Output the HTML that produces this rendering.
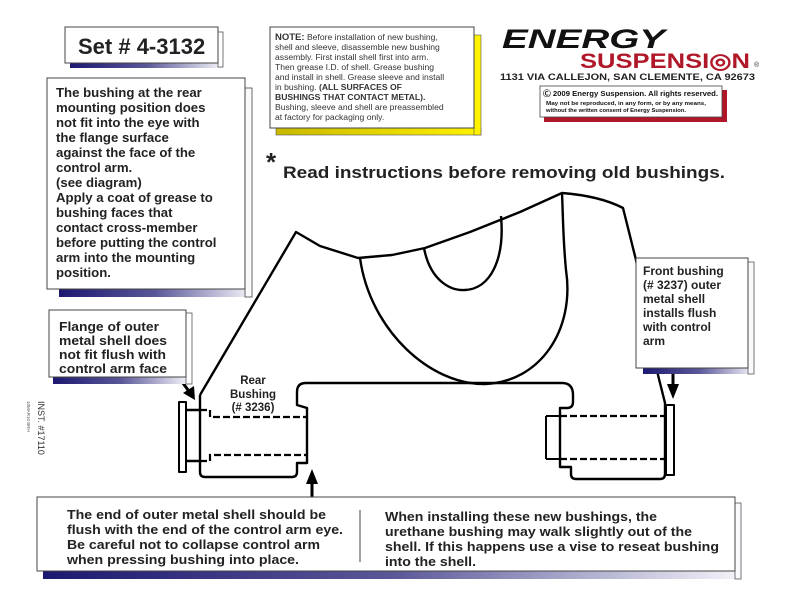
<!DOCTYPE html>
<html><head><meta charset="utf-8"><style>
html,body{margin:0;padding:0;background:#fff}
svg{display:block}
text{font-family:"Liberation Sans",Arial,sans-serif}
</style></head><body>
<svg width="792" height="612" viewBox="0 0 792 612" xmlns="http://www.w3.org/2000/svg">
<defs>
<linearGradient id="bl" x1="0" x2="1" y1="0" y2="0"><stop offset="0" stop-color="#1c1870"/><stop offset="0.5" stop-color="#5a5798"/><stop offset="1" stop-color="#f4f4fa"/></linearGradient>
<linearGradient id="yl" x1="0" x2="1" y1="0" y2="0"><stop offset="0" stop-color="#c8b800"/><stop offset="1" stop-color="#fff200"/></linearGradient>
</defs>

<!-- Set box -->
<rect x="70" y="62" width="152" height="6" fill="url(#bl)"/>
<rect x="218" y="32" width="5" height="35" fill="#fff" stroke="#555" stroke-width="0.8"/>
<rect x="65" y="27" width="153" height="36" fill="#fff" stroke="#444" stroke-width="1"/>
<text x="78" y="54" font-size="22" font-weight="bold" fill="#222">Set # 4-3132</text>

<!-- Left text box -->
<rect x="59" y="288" width="193" height="9" fill="url(#bl)"/>
<rect x="245" y="88" width="7" height="209" fill="#fafafc" stroke="#444" stroke-width="0.8"/>
<rect x="47" y="78" width="198" height="211" fill="#fff" stroke="#444" stroke-width="1"/>
<g font-size="13.2" font-weight="bold" fill="#222">
<text x="56" y="97">The bushing at the rear</text>
<text x="56" y="112">mounting position does</text>
<text x="56" y="127">not fit into the eye with</text>
<text x="56" y="142">the flange surface</text>
<text x="56" y="157">against  the face of the</text>
<text x="56" y="172">control arm.</text>
<text x="56" y="187">(see diagram)</text>
<text x="56" y="202">Apply a coat of grease to</text>
<text x="56" y="217">bushing faces that</text>
<text x="56" y="232">contact cross-member</text>
<text x="56" y="247">before putting the control</text>
<text x="56" y="262">arm into the mounting</text>
<text x="56" y="277">position.</text>
</g>

<!-- Note box -->
<rect x="276" y="128" width="205" height="7" fill="url(#yl)" stroke="#555" stroke-width="0.6"/>
<rect x="474" y="35" width="7" height="100" fill="#fff200" stroke="#555" stroke-width="0.6"/>
<rect x="270" y="27" width="204" height="101" fill="#fff" stroke="#444" stroke-width="1"/>
<g font-size="8.6" fill="#333">
<text x="275" y="40"><tspan font-weight="bold" font-size="9.5">NOTE:</tspan> Before installation of new bushing,</text>
<text x="275" y="50">shell and sleeve, disassemble new bushing</text>
<text x="275" y="60">assembly. First install shell first into arm.</text>
<text x="275" y="70">Then grease I.D. of shell. Grease bushing</text>
<text x="275" y="80">and install in shell. Grease sleeve and install</text>
<text x="275" y="90">in bushing. <tspan font-weight="bold">(ALL SURFACES OF</tspan></text>
<text x="275" y="100" font-weight="bold">BUSHINGS THAT CONTACT METAL).</text>
<text x="275" y="110">Bushing, sleeve and shell are preassembled</text>
<text x="275" y="120">at factory for packaging only.</text>
</g>

<!-- Logo -->
<text x="502" y="48" font-size="27" font-weight="bold" font-style="italic" fill="#111" textLength="163" lengthAdjust="spacingAndGlyphs">ENERGY</text>
<text x="580" y="68" font-size="21" font-weight="bold" fill="#b0182a" textLength="170" lengthAdjust="spacingAndGlyphs">SUSPENSI◎N</text>
<text x="754" y="67" font-size="7" fill="#333">®</text>
<text x="500" y="80" font-size="9.5" font-weight="bold" fill="#222" textLength="255" lengthAdjust="spacingAndGlyphs">1131 VIA CALLEJON, SAN CLEMENTE, CA  92673</text>
<rect x="544" y="90" width="183" height="32" fill="#b0182a"/>
<rect x="540" y="86" width="182" height="31" fill="#fff" stroke="#444" stroke-width="0.8"/>
<text x="543" y="96" font-size="7.2" font-weight="bold" fill="#111" textLength="175" lengthAdjust="spacingAndGlyphs">Ⓒ 2009 Energy Suspension. All rights reserved.</text>
<text x="546" y="105" font-size="5.8" font-weight="bold" fill="#111" textLength="160" lengthAdjust="spacingAndGlyphs">May not be reproduced, in any form, or by any means,</text>
<text x="546" y="112" font-size="5.8" font-weight="bold" fill="#111" textLength="140" lengthAdjust="spacingAndGlyphs">without the written consent of Energy Suspension.</text>

<!-- Read instructions -->
<text x="266" y="171" font-size="26" font-weight="bold" fill="#222">*</text>
<text x="283" y="178" font-size="16.5" font-weight="bold" fill="#222" textLength="442" lengthAdjust="spacingAndGlyphs">Read instructions before removing old bushings.</text>

<!-- Arm drawing -->
<g fill="none" stroke="#000" stroke-width="2.4" stroke-linejoin="round">
<path d="M200,395 L296,232 L320,246 L358,258 L392,255 L425,248 L470,232 L520,212 L562,193 Q600,196 623,208 L636,260 L658,375"/>
<path d="M360,258 C370,330 430,385 485,384 C540,382 575,330 566,270 C563,240 563,215 562,193"/>
<path d="M424,248 C430,280 450,291 465,290 C490,289 505,260 501,216"/>
<path d="M200,395 L200,472 Q200,477 205,477 L292,477 Q297,477 297,472 L297,463 L307,463 L307,408 L297,405 L297,392 Q297,383 306,383 L562,383 Q573,383 573,395 L573,402 Q573,408 567,408 L560,408 L560,467 L571,467 L571,474 Q571,479 576,479 L660,479 Q665,479 665,474 L665,403 L658,375"/>
<rect x="179" y="402" width="7" height="70" stroke-width="2"/>
<path d="M186,410 L200,410 M186,461 L200,461"/>
<path d="M546,416 L560,416 M546,459 L560,459 M546,416 L546,459" stroke-width="2"/>
<rect x="666" y="405" width="8" height="70" stroke-width="2"/>
</g>
<g fill="none" stroke="#000" stroke-width="2.2" stroke-dasharray="7,3">
<path d="M200,410 L210,410 L210,417 L307,417"/>
<path d="M200,461 L210,461 L210,455 L307,455"/>
<path d="M560,416 L665,416"/>
<path d="M560,459 L665,459"/>
</g>
<!-- arrows -->
<g stroke="#000" stroke-width="3" fill="none">
<line x1="175" y1="372" x2="188" y2="390"/>
<line x1="312" y1="500" x2="312" y2="482"/>
<line x1="673" y1="363" x2="673" y2="386"/>
</g>
<path d="M183,393 L195,400 L194,386z" fill="#000"/>
<path d="M306,484 L312,469 L318,484z" fill="#000"/>
<path d="M667,384 L673,399 L679,384z" fill="#000"/>

<!-- Rear bushing label -->
<g font-size="11.5" font-weight="bold" fill="#222" text-anchor="middle">
<text x="253" y="384">Rear</text>
<text x="253" y="398">Bushing</text>
<text x="253" y="411">(# 3236)</text>
</g>

<!-- Flange box -->
<rect x="53" y="377" width="135" height="7" fill="url(#bl)"/>
<rect x="186" y="313" width="6" height="71" fill="#fff" stroke="#555" stroke-width="0.8"/>
<rect x="49" y="310" width="137" height="67" fill="#fff" stroke="#444" stroke-width="1"/>
<g font-size="13" font-weight="bold" fill="#222">
<text x="59" y="331" textLength="100" lengthAdjust="spacingAndGlyphs">Flange of outer</text>
<text x="59" y="345" textLength="108" lengthAdjust="spacingAndGlyphs">metal shell does</text>
<text x="59" y="359" textLength="107" lengthAdjust="spacingAndGlyphs">not fit flush with</text>
<text x="59" y="373" textLength="108" lengthAdjust="spacingAndGlyphs">control arm face</text>
</g>

<!-- Front box -->
<rect x="643" y="368" width="111" height="6" fill="url(#bl)"/>
<rect x="748" y="262" width="6" height="112" fill="#fafafc" stroke="#555" stroke-width="0.8"/>
<rect x="636" y="258" width="112" height="110" fill="#fff" stroke="#444" stroke-width="1"/>
<g font-size="12" font-weight="bold" fill="#222">
<text x="643" y="275">Front bushing</text>
<text x="643" y="289">(# 3237) outer</text>
<text x="643" y="303">metal shell</text>
<text x="643" y="317">installs flush</text>
<text x="643" y="331">with control</text>
<text x="643" y="345">arm</text>
</g>

<!-- Bottom box -->
<rect x="43" y="570" width="698" height="9" fill="url(#bl)"/>
<rect x="735" y="503" width="6" height="76" fill="#fafafc" stroke="#555" stroke-width="0.8"/>
<rect x="37" y="497" width="698" height="74" fill="#fff" stroke="#444" stroke-width="1"/>
<line x1="360" y1="510" x2="360" y2="562" stroke="#444" stroke-width="1"/>
<g font-size="12.5" font-weight="bold" fill="#222">
<text x="67" y="519" textLength="259" lengthAdjust="spacingAndGlyphs">The end of outer metal shell should be</text>
<text x="67" y="534" textLength="276" lengthAdjust="spacingAndGlyphs">flush with the end of the control arm eye.</text>
<text x="67" y="549" textLength="253" lengthAdjust="spacingAndGlyphs">Be careful not to collapse control arm</text>
<text x="67" y="564" textLength="232" lengthAdjust="spacingAndGlyphs">when pressing bushing into place.</text>
<text x="385" y="521" textLength="272" lengthAdjust="spacingAndGlyphs">When installing these new bushings, the</text>
<text x="385" y="536" textLength="307" lengthAdjust="spacingAndGlyphs">urethane bushing may walk slightly out of the</text>
<text x="385" y="551" textLength="334" lengthAdjust="spacingAndGlyphs">shell. If this happens use a vise to reseat bushing</text>
<text x="385" y="566" textLength="91" lengthAdjust="spacingAndGlyphs">into the shell.</text>
</g>

<!-- vertical inst text -->
<text transform="translate(38,401) rotate(90)" font-size="9" fill="#333">INST. #17110</text>
<text transform="translate(27,401) rotate(90)" font-size="4.5" fill="#555">10MAR10    BRH</text>
</svg>
</body></html>
